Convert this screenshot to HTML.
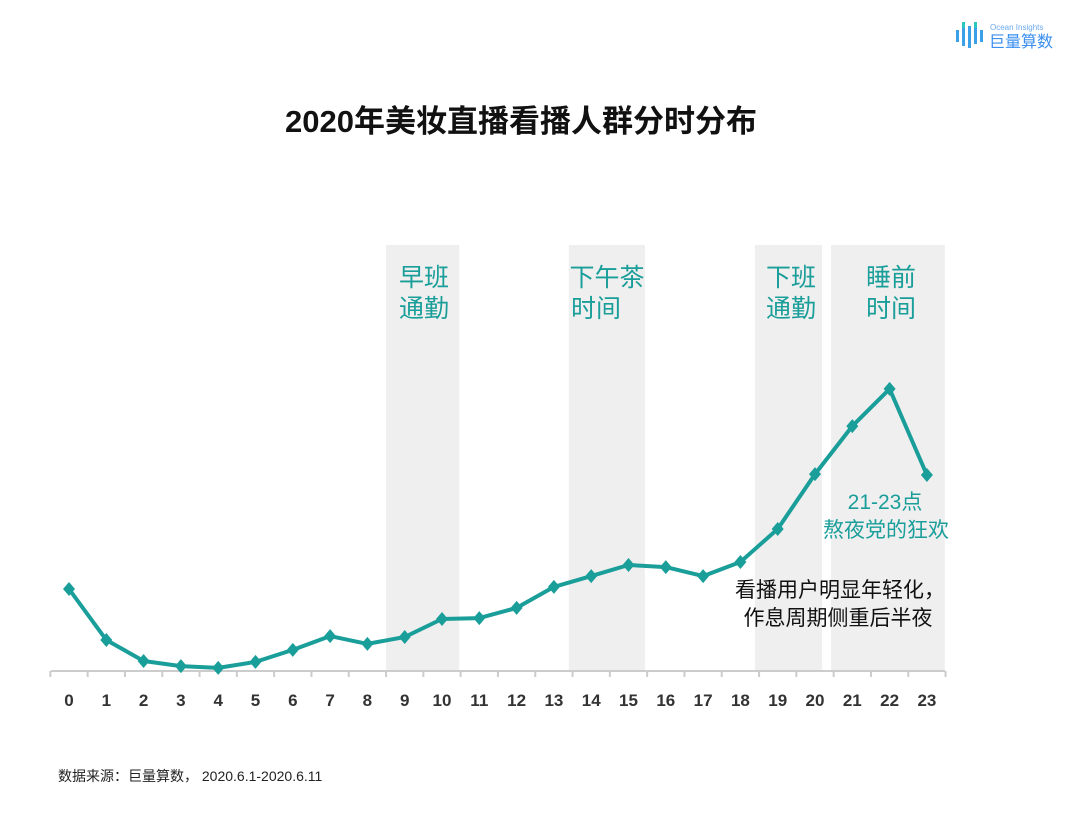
<!DOCTYPE html>
<html><head><meta charset="utf-8"><style>
body{margin:0;background:#fff;width:1080px;height:808px;overflow:hidden;font-family:"Liberation Sans","Noto Sans CJK SC",sans-serif}
</style></head><body>
<svg width="1080" height="808" viewBox="0 0 1080 808" xmlns="http://www.w3.org/2000/svg" font-family="Liberation Sans, Noto Sans CJK SC, sans-serif">
<g>
<g fill="#3aa0e8">
<rect x="956" y="30" width="3" height="12"/><rect x="962" y="22" width="3" height="24"/><rect x="968" y="26" width="3" height="22"/><rect x="974" y="24" width="3" height="20"/><rect x="980" y="30" width="3" height="12"/>
</g>
<rect x="962" y="22" width="3" height="6" fill="#2cc6c0"/><rect x="974" y="22" width="3" height="6" fill="#2cc6c0"/>
<text x="990" y="30" font-size="8" fill="#6aaaf0">Ocean Insights</text>
<text x="989" y="47" font-size="16" fill="#3a8ff0">巨量算数</text>
</g>
<text x="521" y="132" text-anchor="middle" font-size="31" font-weight="bold" fill="#111">2020年美妆直播看播人群分时分布</text>
<g id="bands"></g>
<line x1="51" y1="671" x2="945" y2="671" stroke="#ccc" stroke-width="2"/>
<g id="ticks"></g>
<g id="series"></g>
<g font-size="25" fill="#1a9e9a" text-anchor="middle">
<text x="424" y="286">早班</text><text x="424" y="317">通勤</text>
<text x="607" y="286">下午茶</text><text x="596" y="317">时间</text>
<text x="791" y="286">下班</text><text x="791" y="317">通勤</text>
<text x="891" y="286">睡前</text><text x="891" y="317">时间</text>
<text x="885" y="509" font-size="21">21-23点</text>
<text x="886" y="537" font-size="21">熬夜党的狂欢</text>
<text x="840" y="597" font-size="21" fill="#111">看播用户明显年轻化，</text>
<text x="838" y="625" font-size="21" fill="#111">作息周期侧重后半夜</text>
</g>
<text x="58" y="781" font-size="14" fill="#222">数据来源：巨量算数，  2020.6.1-2020.6.11</text>
</svg>
<script>
const hours=["0","1","2","3","4","5","6","7","8","9","10","11","12","13","14","15","16","17","18","19","20","21","22","23"];
const values=[28,11,4,2.3,1.7,3.7,7.7,12.3,9.7,12,18,18.3,21.7,28.7,32.3,36,35.3,32.3,37,48,66.3,82.3,94.7,66];
const bandStarts=[8.5,13.4,18.39,20.43];
const bandEnds=[10.46,15.44,20.19,23.48];
const NS="http://www.w3.org/2000/svg";
const x=i=>69+i*37.3;
const y=v=>673-v*3;
function mk(t,a,p){const e=document.createElementNS(NS,t);for(const k in a)e.setAttribute(k,a[k]);document.getElementById(p).appendChild(e);return e;}
bandStarts.forEach((s,i)=>{const e=mk('rect',{x:x(s),y:245,width:x(bandEnds[i])-x(s),height:426,fill:'#efefef'},'bands');

});
for(let i=0;i<=hours.length;i++){mk('line',{x1:x(i-0.5),y1:671,x2:x(i-0.5),y2:677,stroke:'#ccc','stroke-width':2},'ticks');}
hours.forEach((h,i)=>{const t=mk('text',{x:x(i),y:706,'text-anchor':'middle','font-size':17,'font-weight':'bold',fill:'#333'},'ticks');t.textContent=h;

});
const pl=mk('polyline',{points:values.map((v,i)=>x(i)+','+y(v)).join(' '),fill:'none',stroke:'#1a9e9a','stroke-width':4,'stroke-linejoin':'round'},'series');


values.forEach((v,i)=>{const cx=x(i),cy=y(v);const m=mk('polygon',{points:`${cx},${cy-7} ${cx+6},${cy} ${cx},${cy+7} ${cx-6},${cy}`,fill:'#1a9e9a'},'series');

});
</script>
</body></html>
